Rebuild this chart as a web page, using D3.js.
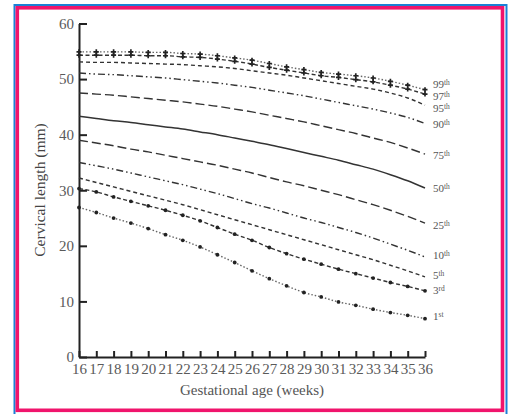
<!DOCTYPE html>
<html>
<head>
<meta charset="utf-8">
<script src="https://d3js.org/d3.v7.min.js"></script>
<style>
body {
  margin: 0;
  background: #fff;
}
svg text {
  font-family: "Liberation Serif", "DejaVu Serif", serif;
}
.axis path, .axis line {
  stroke: #222;
  stroke-width: 2;
}
.axis text {
  fill: #5a5a5a;
  font-size: 15px;
}
</style>
</head>
<body>
<div id="chart"></div>
<script>

// gestational weeks and y ticks
var weeks = [16,17,18,19,20,21,22,23,24,25,26,27,28,29,30,31,32,33,34,35,36];
var yTicks = [0,10,20,30,40,50,60];

// centile curves, cervical length in mm (one value per week)
var p99 = [54.9,54.9,54.9,54.9,54.8,54.8,54.6,54.5,54.2,53.8,53.4,52.8,52.2,51.7,51.2,50.9,50.6,50.2,49.6,48.9,48.1];
var p97 = [54.3,54.3,54.3,54.3,54.2,54.2,54.0,53.9,53.6,53.2,52.7,52.1,51.6,51.1,50.6,50.3,49.9,49.5,48.9,48.2,47.3];
var p95 = [53.1,53.0,53.0,52.9,52.8,52.7,52.6,52.4,52.2,51.9,51.5,51.1,50.7,50.2,49.7,49.2,48.7,48.2,47.5,46.6,45.3];
var p90 = [51.1,50.9,50.8,50.6,50.4,50.2,49.9,49.6,49.3,48.9,48.5,48.0,47.5,47.0,46.4,45.8,45.2,44.6,43.9,43.1,42.0];
var p75 = [47.5,47.3,47.1,46.8,46.5,46.2,45.9,45.5,45.1,44.6,44.1,43.5,42.9,42.3,41.6,40.9,40.2,39.4,38.6,37.6,36.5];
var p50 = [43.3,42.9,42.5,42.2,41.8,41.4,41.0,40.5,40.0,39.4,38.8,38.2,37.5,36.8,36.1,35.4,34.6,33.8,32.8,31.7,30.4];
var p25 = [39.0,38.5,38.0,37.4,36.9,36.3,35.7,35.1,34.5,33.8,33.1,32.3,31.5,30.8,30.0,29.2,28.3,27.4,26.4,25.3,24.1];
var p10 = [35.0,34.4,33.8,33.1,32.4,31.7,31.0,30.2,29.4,28.5,27.6,26.8,25.9,25.0,24.2,23.3,22.4,21.4,20.3,19.2,18.0];
var p5  = [32.2,31.4,30.6,29.8,29.0,28.2,27.4,26.5,25.6,24.7,23.8,22.9,22.0,21.1,20.2,19.3,18.4,17.5,16.5,15.5,14.4];
var p3  = [30.3,29.7,28.8,28.0,27.2,26.4,25.5,24.5,23.3,22.1,21.0,19.7,18.6,17.6,16.7,15.8,15.0,14.2,13.4,12.7,11.9];
var p1  = [26.9,26.0,25.0,24.1,23.1,22.0,21.0,19.8,18.4,17.0,15.5,14.1,12.8,11.6,10.8,9.9,9.3,8.6,8.0,7.5,6.9];

var centileNums = ["99","97","95","90","75","50","25","10","5","3","1"];
var centileSups = ["th","th","th","th","th","th","th","th","th","rd","st"];

var width = 512,
    height = 414;

// line look for each centile, same order as above
var series = [
  {vals: p99, dash: "1.5,2", col: "#666", mark: "cross"},
  {vals: p97, dash: "4,2.5", col: "#333", mark: "cross"},
  {vals: p95, dash: "4,3", col: "#333"},
  {vals: p90, dash: "7,3,1.5,3,1.5,3", col: "#333"},
  {vals: p75, dash: "9,4", col: "#333"},
  {vals: p50, dash: null, col: "#333"},
  {vals: p25, dash: "9,4", col: "#333"},
  {vals: p10, dash: "7,3,1.5,3,1.5,3", col: "#333"},
  {vals: p5,  dash: "4,3", col: "#333"},
  {vals: p3,  dash: "4,2.5", col: "#333", mark: "dot"},
  {vals: p1,  dash: "1.5,2", col: "#666", mark: "dot"}
];
// small shifts so the top labels don't collide
var labelNudge = [-5.5, 2, 3, 1, 1, 0, 2, -2, -2, -0.5, -2];

var svg = d3.select("#chart").append("svg")
  .attr("width", width)
  .attr("height", height);

// frame
svg.append("rect")
  .attr("x", 14.5).attr("y", 5)
  .attr("width", 492).attr("height", 410)
  .attr("fill", "none")
  .attr("stroke", "#1a80d6")
  .attr("stroke-width", 2);
svg.append("rect")
  .attr("x", 17.3).attr("y", 7.8)
  .attr("width", 485.2).attr("height", 402.5)
  .attr("fill", "#fff")
  .attr("stroke", "#f0146c")
  .attr("stroke-width", 3.6);

var x = d3.scaleLinear().domain([16, 36]).range([79, 425]);
var y = d3.scaleLinear().domain([0, 60]).range([357, 23.5]);

// axes
svg.append("g")
  .attr("class", "axis")
  .attr("transform", "translate(79,0)")
  .call(d3.axisLeft(y).tickValues(yTicks).tickSizeInner(-8).tickSizeOuter(0).tickPadding(5));

svg.append("g")
  .attr("class", "axis")
  .attr("transform", "translate(0,357)")
  .call(d3.axisBottom(x).tickValues(weeks).tickSizeInner(-6).tickSizeOuter(0).tickPadding(6.5));

// lines
var line = d3.line()
  .x(function(d, i) { return x(weeks[i]); })
  .y(function(d) { return y(d); })
  .curve(d3.curveMonotoneX);

series.forEach(function(s) {
  svg.append("path")
    .attr("d", line(s.vals))
    .attr("fill", "none")
    .attr("stroke", s.col)
    .attr("stroke-width", s.dash ? 1.4 : 1.5)
    .attr("stroke-dasharray", s.dash);

  if (s.mark == "dot") {
    svg.selectAll(null).data(s.vals).enter().append("circle")
      .attr("cx", function(d, i) { return x(weeks[i]); })
      .attr("cy", function(d) { return y(d); })
      .attr("r", 1.9)
      .attr("fill", "#222");
  }
  if (s.mark == "cross") {
    svg.selectAll(null).data(s.vals).enter().append("path")
      .attr("transform", function(d, i) { return "translate(" + x(weeks[i]) + "," + y(d) + ")"; })
      .attr("d", d3.symbol(d3.symbolCross, 14))
      .attr("fill", "#222");
  }
});

// centile labels at line ends
series.forEach(function(s, i) {
  var t = svg.append("text")
    .attr("x", 433)
    .attr("y", y(s.vals[s.vals.length - 1]) + labelNudge[i])
    .attr("dy", "0.35em")
    .style("fill", "#555")
    .style("font-size", "11px");
  t.append("tspan").text(centileNums[i]);
  t.append("tspan").attr("dy", "-0.4em").style("font-size", "7.5px").text(centileSups[i]);
});

// axis titles
svg.append("text")
  .attr("x", 252)
  .attr("y", 395)
  .attr("text-anchor", "middle")
  .style("fill", "#555")
  .style("font-size", "15px")
  .text("Gestational age (weeks)");

svg.append("text")
  .attr("transform", "translate(45,190) rotate(-90)")
  .attr("text-anchor", "middle")
  .style("fill", "#444")
  .style("font-size", "15.5px")
  .text("Cervical length (mm)");

</script>
</body>
</html>
